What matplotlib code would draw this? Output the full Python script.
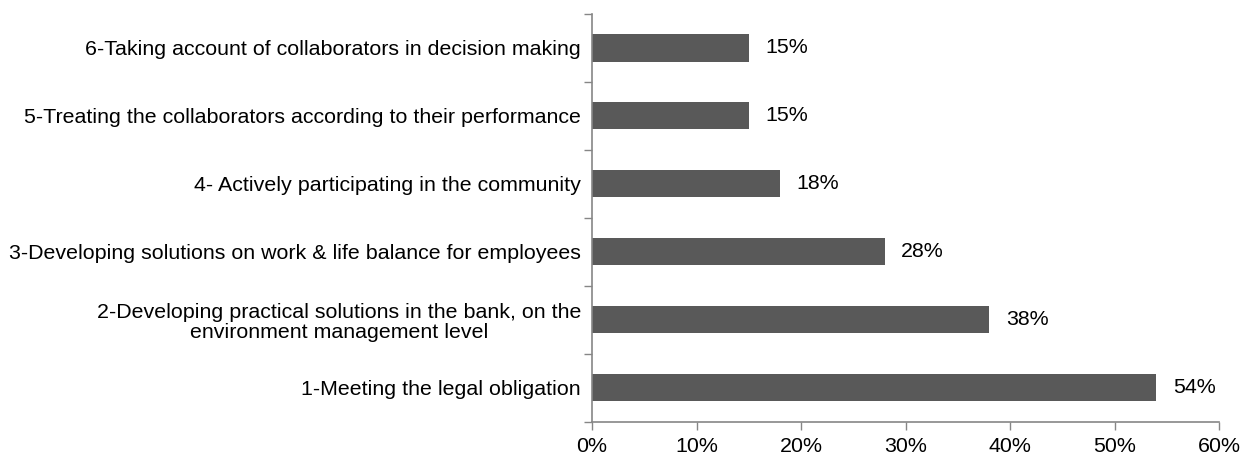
import matplotlib
matplotlib.use("Agg")
import matplotlib.pyplot as plt
from matplotlib.ticker import FixedLocator, PercentFormatter

plt.rcParams['font.family'] = ['Liberation Sans', 'DejaVu Sans']

categories = [
    "1-Meeting the legal obligation",
    "2-Developing practical solutions in the bank, on the\nenvironment management level",
    "3-Developing solutions on work & life balance for employees",
    "4- Actively participating in the community",
    "5-Treating the collaborators according to their performance",
    "6-Taking account of collaborators in decision making",
]
values = [54, 38, 28, 18, 15, 15]
x_ticks = [0, 10, 20, 30, 40, 50, 60]

bar_color = "#595959"
axis_color = "#868686"
font_size = 15.4

fig = plt.figure(figsize=(12.48, 4.57), dpi=100)
ax = fig.add_axes([0.4744, 0.0773, 0.9768 - 0.4744, 0.9694 - 0.0773])

pos = list(range(len(categories)))
ax.barh(pos, values, height=0.4, color=bar_color)

for p, v in zip(pos, values):
    ax.text(v + 1.6, p, f"{v}%", va="center", ha="left", fontsize=font_size, color="black")

ax.set_xlim(0, 60)
ax.set_ylim(-0.5, len(categories) - 0.5)
ax.set_xticks(x_ticks)
ax.xaxis.set_major_formatter(PercentFormatter(decimals=0))

ax.set_yticks(pos)
ax.set_yticklabels(categories, fontsize=font_size)
ax.yaxis.set_minor_locator(FixedLocator([i - 0.5 for i in range(len(categories) + 1)]))
ax.tick_params(axis="y", which="major", length=0, pad=8)
ax.tick_params(axis="y", which="minor", length=6, width=1, color=axis_color, direction="out")
ax.tick_params(axis="x", which="major", length=6, width=1, color=axis_color, direction="out",
               labelsize=font_size, pad=5)

# multi-line labels: right edge at the axis, lines centred on each other
for lbl in ax.get_yticklabels():
    lbl.set_horizontalalignment("right")
    lbl.set_multialignment("center")
    lbl.set_linespacing(1.05)

for side in ("top", "right"):
    ax.spines[side].set_visible(False)
for side in ("left", "bottom"):
    ax.spines[side].set_color(axis_color)
    ax.spines[side].set_linewidth(1.2)

fig.savefig("out.png", dpi=100, facecolor="white")
